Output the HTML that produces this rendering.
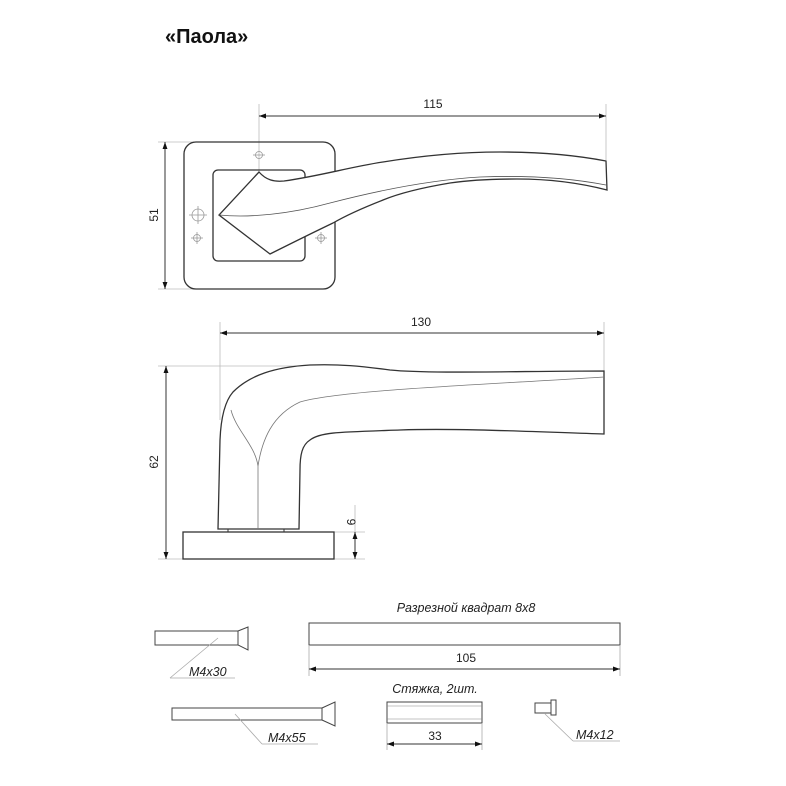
<!DOCTYPE html>
<html><head><meta charset="utf-8"><style>
html,body{margin:0;padding:0;background:#fff;width:786px;height:786px;overflow:hidden}
svg{display:block}
text{font-family:"Liberation Sans",sans-serif;fill:#222}
.it{font-style:italic;font-size:12.5px}
</style></head><body>
<svg width="786" height="786" viewBox="0 0 786 786" xmlns="http://www.w3.org/2000/svg">
<defs>
<marker id="a" viewBox="0 0 10 10" refX="10" refY="5" markerWidth="9" markerHeight="7" orient="auto-start-reverse" markerUnits="userSpaceOnUse"><path d="M0,1.5 L10,5 L0,8.5 z" fill="#111"/></marker>
</defs>
<text x="165" y="43" font-size="20" font-weight="bold" style="fill:#111">«Паола»</text>

<!-- TOP VIEW -->
<g fill="none" stroke="#bbb" stroke-width="0.8">
<line x1="259" y1="104" x2="259" y2="172"/>
<line x1="606" y1="104" x2="606" y2="160"/>
<line x1="158" y1="142" x2="196" y2="142"/>
<line x1="158" y1="289" x2="196" y2="289"/>
</g>
<line x1="259" y1="116" x2="606" y2="116" stroke="#333" stroke-width="1" marker-start="url(#a)" marker-end="url(#a)"/>
<text x="433" y="108" font-size="12" text-anchor="middle">115</text>
<line x1="165" y1="142" x2="165" y2="289" stroke="#333" stroke-width="1" marker-start="url(#a)" marker-end="url(#a)"/>
<text x="0" y="0" font-size="12" text-anchor="middle" transform="translate(158,215) rotate(-90)">51</text>
<rect x="184" y="142" width="151" height="147" rx="12" fill="none" stroke="#333" stroke-width="1.3"/>
<rect x="213" y="170" width="92" height="91" rx="5" fill="none" stroke="#333" stroke-width="1.3"/>
<g fill="none" stroke="#999" stroke-width="0.8">
<circle cx="259" cy="155" r="3.5"/><line x1="253" y1="155" x2="265" y2="155"/>
<circle cx="198" cy="215" r="6"/><line x1="189" y1="215" x2="207" y2="215"/><line x1="198" y1="206" x2="198" y2="224"/>
<circle cx="197" cy="238" r="3.5"/><line x1="191" y1="238" x2="203" y2="238"/><line x1="197" y1="232" x2="197" y2="244"/>
<circle cx="321" cy="238" r="3.5"/><line x1="315" y1="238" x2="327" y2="238"/><line x1="321" y1="232" x2="321" y2="244"/>
</g>
<path d="M259,172 C266,180 274,182 284,181 C320,176 350,167 383,162 C420,156 460,152 500,152 C540,152 575,155 606,161 L607,190 C580,183 550,179 517,179 C490,179 470,180 450,183 C420,188 400,193 383,200 C360,209 345,216 333,223 C310,234 290,244 270,254 L219,215 Z" fill="#fff" stroke="#333" stroke-width="1.3"/>
<path d="M219,215 C250,218 290,214 330,203 C380,190 430,180 480,177 C530,175 570,178 606,185" fill="none" stroke="#555" stroke-width="0.8"/>

<!-- SIDE VIEW -->
<g fill="none" stroke="#bbb" stroke-width="0.8">
<line x1="220" y1="322" x2="220" y2="420"/>
<line x1="604" y1="322" x2="604" y2="372"/>
<line x1="158" y1="366" x2="340" y2="366"/>
<line x1="158" y1="559" x2="185" y2="559"/>
<line x1="334" y1="532" x2="365" y2="532"/>
<line x1="334" y1="559" x2="365" y2="559"/>
<line x1="355" y1="505" x2="355" y2="532"/>
</g>
<line x1="220" y1="333" x2="604" y2="333" stroke="#333" stroke-width="1" marker-start="url(#a)" marker-end="url(#a)"/>
<text x="421" y="326" font-size="12" text-anchor="middle">130</text>
<line x1="166" y1="366" x2="166" y2="559" stroke="#333" stroke-width="1" marker-start="url(#a)" marker-end="url(#a)"/>
<text x="0" y="0" font-size="12" text-anchor="middle" transform="translate(158,462) rotate(-90)">62</text>
<line x1="355" y1="532" x2="355" y2="559" stroke="#333" stroke-width="1" marker-start="url(#a)" marker-end="url(#a)"/>
<text x="0" y="0" font-size="12" text-anchor="middle" transform="translate(347,522) rotate(90)">9</text>
<rect x="183" y="532" width="151" height="27" fill="none" stroke="#333" stroke-width="1.3"/>
<line x1="228" y1="529" x2="228" y2="532" stroke="#333"/><line x1="284" y1="529" x2="284" y2="532" stroke="#333"/>
<path d="M218,529 L220,440 C221,415 226,400 233,392 C250,375 275,367 310,365 C340,364 360,366 390,370 C430,374 520,371 604,371 L604,434 C540,432 460,428 400,430 C340,432 320,432 310,440 C302,445 300,455 300,470 L299,529 Z" fill="#fff" stroke="#333" stroke-width="1.3"/>
<path d="M231,410 C236,430 255,445 258,466 L258,529" fill="none" stroke="#777" stroke-width="0.8"/>
<path d="M258,466 C262,440 272,415 300,402 C340,390 480,385 604,377" fill="none" stroke="#777" stroke-width="0.8"/>

<!-- ACCESSORIES -->
<g fill="#fff" stroke="#444" stroke-width="1">
<rect x="155" y="631" width="83" height="14"/>
<path d="M238,631 L248,627 L248,650 L238,645 Z"/>
<rect x="309" y="623" width="311" height="22"/>
<rect x="172" y="708" width="150" height="12"/>
<path d="M322,708 L335,702 L335,726 L322,720 Z"/>
<rect x="387" y="702" width="95" height="21"/>
<rect x="535" y="703" width="16" height="10"/>
<rect x="551" y="700" width="5" height="15"/>
</g>
<g stroke="#888" stroke-width="0.6">
<line x1="387" y1="706" x2="482" y2="706"/><line x1="387" y1="719" x2="482" y2="719"/>
</g>
<g fill="none" stroke="#aaa" stroke-width="0.8">
<line x1="218" y1="638" x2="170" y2="678"/><line x1="170" y1="678" x2="235" y2="678"/>
<line x1="235" y1="714" x2="262" y2="744"/><line x1="262" y1="744" x2="318" y2="744"/>
<line x1="545" y1="714" x2="573" y2="741"/><line x1="573" y1="741" x2="620" y2="741"/>
<line x1="309" y1="645" x2="309" y2="676"/><line x1="620" y1="645" x2="620" y2="676"/>
<line x1="387" y1="723" x2="387" y2="750"/><line x1="482" y1="723" x2="482" y2="750"/>
</g>
<line x1="309" y1="669" x2="620" y2="669" stroke="#333" stroke-width="1" marker-start="url(#a)" marker-end="url(#a)"/>
<text x="466" y="662" font-size="12" text-anchor="middle">105</text>
<line x1="387" y1="744" x2="482" y2="744" stroke="#333" stroke-width="1" marker-start="url(#a)" marker-end="url(#a)"/>
<text x="435" y="740" font-size="12" text-anchor="middle">33</text>
<text class="it" x="466" y="612" text-anchor="middle">Разрезной квадрат 8x8</text>
<text class="it" x="435" y="693" text-anchor="middle">Стяжка, 2шт.</text>
<text class="it" x="189" y="676">M4x30</text>
<text class="it" x="268" y="742">M4x55</text>
<text class="it" x="576" y="739">M4x12</text>
</svg>
</body></html>
